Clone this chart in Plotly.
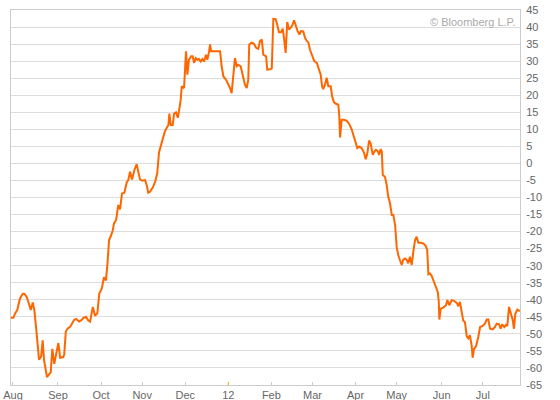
import plotly.graph_objects as go

# trading-session number (0 = 1 Aug 2011) and index level
session = [
    -1.0, 0.2, 1.1, 2.2, 3.6, 5.0, 5.8, 7.0, 8.4, 9.1, 10.1, 10.9, 11.8, 12.5, 13.3, 14.4,
    15.2, 15.9, 16.8, 17.4, 18.4, 19.3, 20.1, 21.1, 22.4, 23.2, 24.1, 25.7, 26.2, 27.0,
    28.0, 29.2, 30.0, 31.2, 32.2, 33.8, 35.1, 36.0, 37.3, 38.5, 39.4, 40.8, 41.9, 43.1,
    44.1, 45.4, 46.5, 47.5, 48.2, 49.1, 50.0, 51.0, 51.6, 52.7, 53.8, 54.7, 55.7, 56.9,
    58.1, 58.9, 59.8, 60.8, 62.0, 63.2, 64.0, 64.9, 66.1, 67.5, 68.3, 69.1, 70.0, 71.4,
    72.6, 73.7, 74.6, 75.6, 76.8, 77.6, 78.5, 79.4, 79.9, 80.6, 81.6, 82.3, 83.3, 84.2,
    84.8, 85.7, 86.2,
    87.4, 88.4, 89.1, 89.9, 91.0, 91.8, 92.5, 93.4, 94.2, 95.0, 95.9, 96.7, 97.6, 98.6,
    99.3, 100.2, 100.7, 101.2, 102.3, 104.1, 105.8, 106.6, 107.5, 108.8, 110.0, 110.9,
    111.7, 112.6, 113.4, 114.3, 115.1, 116.3, 117.4, 118.5, 119.4, 120.2, 120.7, 122.0,
    123.1, 124.2, 125.3, 126.2, 127.1, 127.9, 129.3, 129.9, 131.3, 132.2, 133.0, 134.2,
    135.0, 135.9, 136.9, 137.8, 138.5, 139.3, 140.1, 141.0, 141.9, 142.7, 143.6, 144.6,
    145.4, 146.3, 147.1, 148.3, 149.2, 150.0, 150.9, 151.7, 152.9, 153.9, 155.2, 156.5,
    157.2, 157.9, 158.5, 159.4, 160.3, 161.1, 162.3, 163.1, 164.0, 165.0, 166.2, 166.7,
    167.1, 167.9, 169.1, 170.5, 171.8, 173.0, 174.2, 175.2, 175.9, 176.9, 178.1, 179.3,
    180.2, 181.0, 181.9, 182.7, 183.8, 184.6, 185.4, 186.3, 187.0, 187.8, 188.4, 188.9,
    190.0, 190.9, 191.7, 192.6, 193.5, 194.3, 195.2, 196.0, 196.8, 197.7, 198.6, 199.4,
    200.3, 201.1, 201.9, 202.8, 203.7, 204.5, 205.4, 206.2, 207.1, 208.3, 209.6, 210.8,
    211.6, 212.2, 213.0, 213.9, 215.1, 216.2, 217.0, 217.5, 217.8, 218.5, 219.8, 221.2,
    221.9, 222.9, 224.1, 225.3, 226.7, 227.5, 228.3, 229.2, 230.0, 230.9, 231.8, 232.6,
    233.4, 234.3, 234.8, 235.5, 236.5, 237.7, 238.6, 239.9, 241.1, 242.0, 242.8, 243.7,
    245.0, 246.2, 247.1, 248.3, 249.1, 249.9, 251.0, 251.8, 252.5, 253.4, 254.2, 255.3,
    255.9, 256.6, 257.6, 259.0,
]
level = [
    -45.3, -45.3, -44.0, -43.0, -39.6, -38.2, -38.2, -39.2, -41.6, -43.0, -40.8, -43.0, -48.0, -53.9, -57.6, -56.6,
    -51.9, -57.8, -60.7, -62.7, -61.9, -61.3, -54.4, -58.8, -54.9, -52.7, -57.0, -56.8, -56.0, -49.3,
    -48.4, -47.9, -47.2, -45.9, -45.6, -46.4, -45.9, -45.3, -45.0, -46.1, -46.4, -42.1, -44.7, -44.0,
    -38.2, -36.7, -33.4, -34.3, -30.0, -22.5, -21.3, -19.6, -17.6, -16.6, -12.2, -13.5, -8.8, -8.6,
    -5.6, -4.9, -2.4, -4.7, -2.0, -0.2, -2.4, -4.7, -5.1, -4.9, -6.3, -8.6, -8.3, -7.1,
    -5.4, -2.9, 3.2, 5.5, 7.9, 9.4, 10.4, 11.3, 14.6, 11.3, 11.3, 14.6, 15.0, 13.4,
    15.3, 18.7, 22.6,
    22.1, 32.9, 26.0, 30.4, 31.4, 31.4, 29.5, 30.9, 30.4, 30.6, 29.9, 30.6, 29.9, 31.9,
    30.4, 32.9, 34.9, 32.9, 32.9, 32.9, 32.9, 28.5, 25.5, 24.6, 23.4, 22.1,
    20.6, 25.5, 30.9, 28.5, 28.9, 28.5, 25.5, 23.1, 22.1, 24.6, 34.9, 35.4,
    35.1, 33.9, 33.6, 35.9, 36.3, 31.9, 31.4, 27.5, 27.6, 27.8, 42.4, 42.3,
    40.7, 38.5, 38.5, 39.5, 36.5, 32.4, 41.5, 39.3, 39.8, 40.5, 42.0, 40.0,
    38.8, 37.8, 38.8, 38.7, 36.8, 36.0, 35.5, 33.4, 31.8, 30.0, 29.5, 26.8,
    26.0, 22.6, 21.8, 23.1, 25.1, 22.6, 22.6, 19.5, 17.9, 17.5, 17.2, 13.8,
    7.6, 12.8, 12.8, 12.5, 11.5, 10.0, 8.0, 6.2, 4.5, 4.9, 4.5, 3.2,
    1.2, 2.9, 6.7, 5.9, 2.5, 3.5, 4.0, 3.7, 2.5, 4.2, 3.5, -3.4,
    -3.9, -6.3, -9.8, -11.7, -15.1, -15.1, -18.1, -24.5, -26.9, -28.4, -29.8, -28.2,
    -27.9, -28.2, -29.3, -27.4, -29.8, -25.9, -22.5, -21.5, -23.3, -23.3, -23.5, -24.2,
    -25.4, -32.5, -32.3, -33.0, -34.8, -36.2, -37.7, -40.5, -45.8, -42.6, -42.3, -41.6,
    -40.1, -41.6, -40.1, -40.3, -40.9, -41.9, -40.6, -43.5, -46.1, -46.6, -50.7, -51.3,
    -50.4, -53.4, -57.0, -54.4, -53.7, -50.9, -48.0, -47.7, -47.0, -45.8, -45.8, -48.5,
    -48.7, -48.0, -47.0, -47.2, -48.5, -47.2, -48.0, -47.4, -47.7, -42.1, -44.1, -46.0,
    -48.5, -44.1, -42.9, -43.3,
]

month_sessions = [0, 23, 45, 66, 88, 110, 132, 153, 175, 196, 219, 240]
month_labels = ["Aug", "Sep", "Oct", "Nov", "Dec", "12", "Feb", "Mar", "Apr", "May", "Jun", "Jul"]
year_start_label = "12"
y_ticks = list(range(-65, 50, 5))
y_labels = [str(v) for v in y_ticks]

fig = go.Figure()
fig.add_trace(go.Scatter(
    x=session, y=level, mode="lines",
    line=dict(color="#ff6600", width=2),
    hoverinfo="skip",
))

# orange tick marking the start of the new year
year_tick = month_sessions[month_labels.index(year_start_label)]
fig.add_shape(type="line", xref="x", yref="paper",
              x0=year_tick, x1=year_tick, y0=0, y1=0.008,
              line=dict(color="#ffaa00", width=1))

font_family = "Liberation Sans, Arial, sans-serif"
fig.update_layout(
    width=560, height=400,
    margin=dict(l=11, r=40, t=10, b=15),
    paper_bgcolor="white", plot_bgcolor="white",
    showlegend=False,
    font=dict(family=font_family, size=11, color="#666666"),
    xaxis=dict(
        range=[-1, 259], automargin=False,
        tickmode="array", tickvals=month_sessions, ticktext=month_labels,
        showgrid=False, zeroline=False,
        showline=True, mirror=True, linecolor="#cccccc", linewidth=1,
        ticks="inside", ticklen=3, tickcolor="#cccccc",
        tickfont=dict(size=11, color="#666666"),
    ),
    yaxis=dict(
        range=[-65, 45], side="right", automargin=False,
        tickmode="array", tickvals=y_ticks, ticktext=y_labels,
        showgrid=True, gridcolor="#dddddd", gridwidth=1,
        zeroline=False,
        showline=True, mirror=True, linecolor="#cccccc", linewidth=1,
        ticks="outside", ticklen=3, tickcolor="rgba(0,0,0,0)",
        tickfont=dict(size=11, color="#666666"),
    ),
    annotations=[dict(
        text="© Bloomberg L.P.", xref="paper", yref="paper",
        x=1, y=1, xanchor="right", yanchor="top",
        xshift=-2, yshift=-4, showarrow=False,
        font=dict(family=font_family, size=11, color="#aaaaaa"),
    )],
)

fig.write_html(
    "out.html",
    config={"displayModeBar": False},
    post_script="document.body.style.margin='0';document.body.style.overflow='hidden';",
)
